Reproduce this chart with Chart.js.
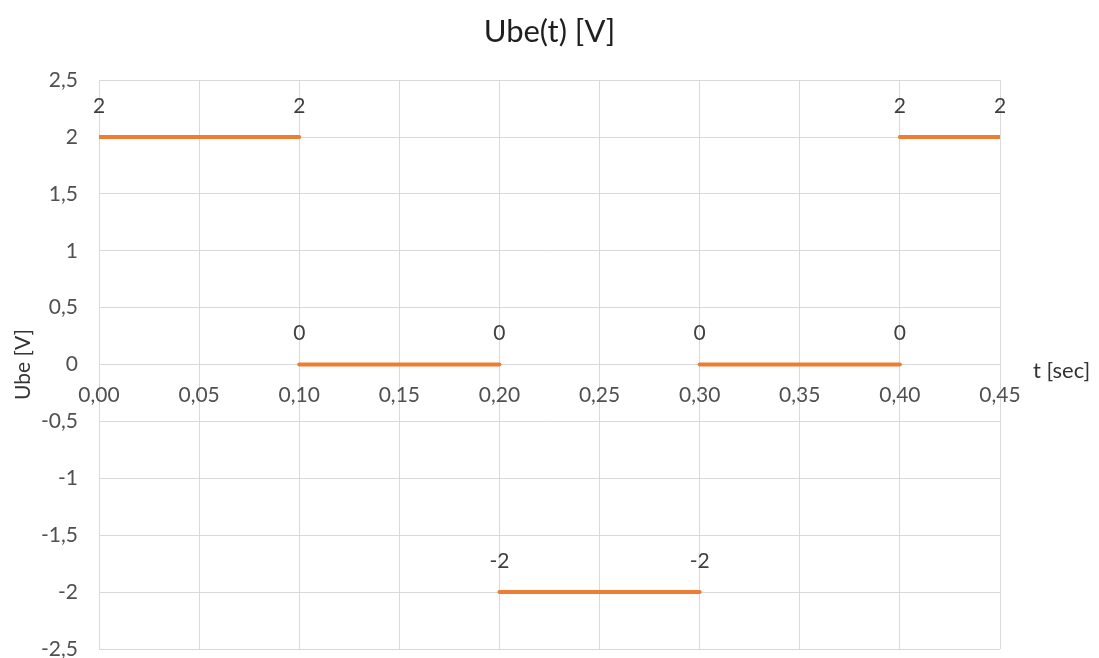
<!DOCTYPE html>
<html>
<head>
<meta charset="utf-8">
<script src="https://cdn.jsdelivr.net/npm/chart.js@4"></script>
<style>
  html, body { margin: 0; padding: 0; background: #fff; }
  #wrap { width: 1099px; height: 658px; }
</style>
</head>
<body>
<div id="wrap"><canvas id="c"></canvas></div>
<script>
// Ube(t): piecewise-constant voltage, one segment per interval
const segStart = [0.00, 0.10, 0.20, 0.30, 0.40];
const segEnd   = [0.10, 0.20, 0.30, 0.40, 0.45];
const levels   = [2, 0, -2, 0, 2];

const xTicks = [0, 0.05, 0.10, 0.15, 0.20, 0.25, 0.30, 0.35, 0.40, 0.45];
const yTicks = [2.5, 2, 1.5, 1, 0.5, 0, -0.5, -1, -1.5, -2, -2.5];

const FONT = 'Lato, "Noto Sans", sans-serif';
const fmtComma = (v, d) => (d === undefined ? String(+v.toFixed(2)) : v.toFixed(d)).replace('.', ',');

const datasets = levels.map((lv, i) => ({
  data: [{ x: segStart[i], y: lv }, { x: segEnd[i], y: lv }],
  borderColor: '#ED7D31',
  backgroundColor: '#ED7D31',
  borderWidth: 4,
  borderCapStyle: 'round',
  pointRadius: 0,
  showLine: true,
  clip: { left: 0, right: 0, top: false, bottom: false }
}));

// Draws the x tick labels along y = 0, the x axis title, and point value labels
const overlay = {
  id: 'overlay',
  afterDatasetsDraw(chart) {
    const { ctx, scales: { x, y } } = chart;
    const y0 = y.getPixelForValue(0);
    ctx.save();
    ctx.font = '21px ' + FONT;
    ctx.textBaseline = 'middle';
    ctx.textAlign = 'center';
    ctx.fillStyle = '#505050';
    xTicks.forEach(t => ctx.fillText(fmtComma(t, 2), x.getPixelForValue(t), y0 + 31));

    ctx.fillStyle = '#404040';
    chart.data.datasets.forEach(ds => {
      ds.data.forEach(p => {
        ctx.fillText(fmtComma(p.y), x.getPixelForValue(p.x), y.getPixelForValue(p.y) - 31);
      });
    });

    ctx.font = '22px ' + FONT;
    ctx.fillStyle = '#333333';
    ctx.textAlign = 'left';
    ctx.fillText('t [sec]', chart.chartArea.right + 33, y0 + 6);
    ctx.restore();
  }
};

new Chart(document.getElementById('c'), {
  type: 'scatter',
  data: { datasets },
  plugins: [overlay],
  options: {
    responsive: true,
    maintainAspectRatio: false,
    animation: false,
    layout: { padding: { top: 0, left: 0, right: 99, bottom: 9 } },
    plugins: {
      legend: { display: false },
      tooltip: { enabled: false },
      title: {
        display: true,
        text: 'Ube(t) [V]',
        fullSize: false,
        color: '#1f1f1f',
        font: { family: FONT, size: 31, weight: 'normal', lineHeight: 1.2 },
        padding: { top: 13, bottom: 30 }
      }
    },
    scales: {
      x: {
        type: 'linear',
        min: 0,
        max: 0.45,
        ticks: { display: false, stepSize: 0.05 },
        afterBuildTicks: s => { s.ticks = xTicks.map(v => ({ value: v })); },
        grid: { color: '#d9d9d9', lineWidth: 1, drawTicks: false },
        border: { display: false }
      },
      y: {
        min: -2.5,
        max: 2.5,
        afterBuildTicks: s => { s.ticks = yTicks.map(v => ({ value: v })); },
        ticks: {
          color: '#505050',
          padding: 21,
          font: { family: FONT, size: 21 },
          callback: v => fmtComma(v)
        },
        title: {
          display: true,
          text: 'Ube [V]',
          color: '#333333',
          font: { family: FONT, size: 21 },
          padding: { top: 11, bottom: 0 }
        },
        grid: { color: '#d9d9d9', lineWidth: 1, drawTicks: false },
        border: { display: false },
        afterFit: s => { s.width = 99; s.paddingTop = 0; s.paddingBottom = 0; }
      }
    }
  }
});
</script>
</body>
</html>
